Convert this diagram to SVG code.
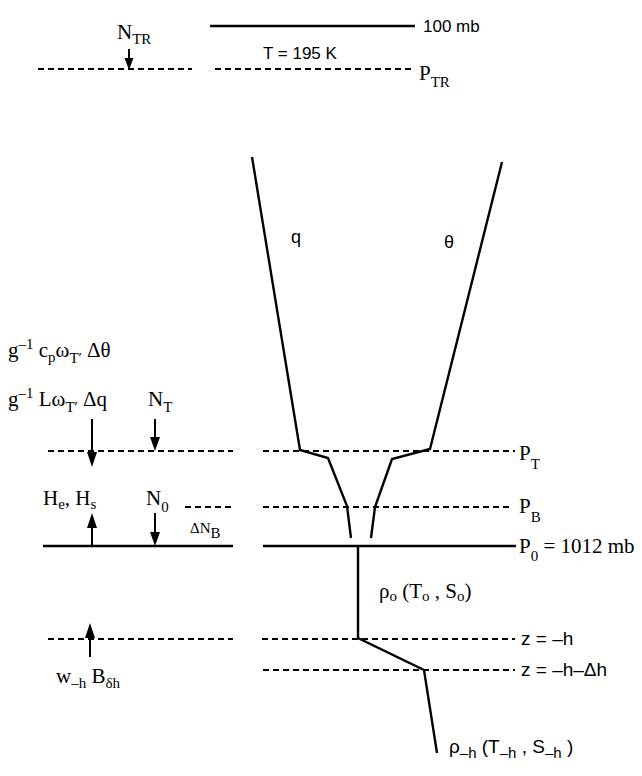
<svg xmlns="http://www.w3.org/2000/svg" width="642" height="776" viewBox="0 0 642 776">
<defs>
<style>
.ln{stroke:#000;stroke-width:2.4;fill:none;stroke-linejoin:miter}
.dl{stroke:#000;stroke-width:2;fill:none;stroke-dasharray:6 4}
.ar{stroke:#000;stroke-width:2;fill:none}
.hd{fill:#000}
.sf{font-family:"Liberation Serif","Times New Roman",serif;font-size:21px;fill:#000}
.ss{font-family:"Liberation Sans",Arial,sans-serif;font-size:17px;fill:#000}
.sub{font-size:15px}
</style>
</defs>
<rect width="642" height="776" fill="#fff"/>
<g id="levels">
<line class="ln" x1="210" y1="26" x2="415" y2="26"/>
<line class="dl" x1="38" y1="69" x2="192" y2="69"/>
<line class="dl" x1="215" y1="69" x2="415" y2="69"/>
<line class="dl" x1="48" y1="451" x2="233" y2="451"/>
<line class="dl" x1="263" y1="451" x2="515" y2="451"/>
<line class="dl" x1="185" y1="507" x2="233" y2="507"/>
<line class="dl" x1="263" y1="507" x2="512" y2="507"/>
<line class="ln" x1="43" y1="546" x2="233" y2="546"/>
<line class="ln" x1="263" y1="546" x2="516" y2="546"/>
<line class="dl" x1="48" y1="639" x2="233" y2="639"/>
<line class="dl" x1="262" y1="639" x2="515" y2="639"/>
<line class="dl" x1="263" y1="670" x2="515" y2="670"/>
</g>
<g id="profiles">
<polyline class="ln" points="252,157 300,450 328,458 347,506 351,538"/>
<polyline class="ln" points="502,162 430,449 392,459 375,507 371,538"/>
<polyline class="ln" points="358,546 358,638 424,670 437,753"/>
</g>
<g id="arrows">
<line class="ar" x1="129" y1="49" x2="129" y2="60"/><polygon class="hd" points="124.5,58 133.5,58 129,70"/>
<line class="ar" x1="92" y1="419" x2="92" y2="456"/><polygon class="hd" points="87,452 97,452 92,467"/>
<line class="ar" x1="155" y1="419" x2="155" y2="440"/><polygon class="hd" points="150,437 160,437 155,451"/>
<line class="ar" x1="92" y1="546" x2="92" y2="525"/><polygon class="hd" points="87,528 97,528 92,513"/>
<line class="ar" x1="155" y1="513" x2="155" y2="535"/><polygon class="hd" points="150,532 160,532 155,546"/>
<line class="ar" x1="90" y1="657" x2="90" y2="635"/><polygon class="hd" points="85,638 95,638 90,623"/>
</g>
<g id="labels">
<text class="sf" x="117" y="39">N<tspan class="sub" dy="5">TR</tspan></text>
<text class="ss" x="423" y="32">100 mb</text>
<text class="ss" x="263" y="59">T = 195 K</text>
<text class="sf" x="419" y="80">P<tspan class="sub" dy="7">TR</tspan></text>
<text class="ss" x="291" y="243" style="font-size:18px">q</text>
<text class="ss" x="444" y="248" style="font-size:18px">θ</text>
<text class="sf" x="8" y="357">g<tspan class="sub" dy="-8">–1</tspan><tspan dy="8"> c</tspan><tspan class="sub" dy="5">p</tspan><tspan dy="-5">ω</tspan><tspan class="sub" dy="6">T′</tspan><tspan dy="-6"> Δθ</tspan></text>
<text class="sf" x="8" y="406">g<tspan class="sub" dy="-8">–1</tspan><tspan dy="8"> Lω</tspan><tspan class="sub" dy="6">T′</tspan><tspan dy="-6"> Δq</tspan></text>
<text class="sf" x="148" y="406">N<tspan class="sub" dy="6">T</tspan></text>
<text class="sf" x="43" y="505">H<tspan class="sub" dy="4">e</tspan><tspan dy="-4">, H</tspan><tspan class="sub" dy="4">s</tspan></text>
<text class="sf" x="146" y="505">N<tspan class="sub" dy="7">0</tspan></text>
<text class="sf" x="190" y="533" style="font-size:15px">ΔN<tspan class="sub" dy="5">B</tspan></text>
<text class="sf" x="519" y="460">P<tspan class="sub" dy="9">T</tspan></text>
<text class="sf" x="519" y="513">P<tspan class="sub" dy="9">B</tspan></text>
<text class="sf" x="519" y="553">P<tspan class="sub" dy="8">0</tspan><tspan dy="-8"> = 1012 mb</tspan></text>
<text class="sf" x="379" y="598">ρ<tspan class="sub" dy="3">o</tspan><tspan dy="-3"> (T</tspan><tspan class="sub" dy="3">o</tspan><tspan dy="-3"> , S</tspan><tspan class="sub" dy="3">o</tspan><tspan dy="-3">)</tspan></text>
<text class="ss" x="521" y="645" style="font-size:19px">z = –h</text>
<text class="ss" x="521" y="676" style="font-size:19px">z = –h–Δh</text>
<text class="sf" x="56" y="683">w<tspan class="sub" dy="5">–h</tspan><tspan dy="-5"> B</tspan><tspan class="sub" dy="5">δh</tspan></text>
<text class="ss" x="449" y="753" style="font-size:19px">ρ<tspan class="sub" dy="5">–h</tspan><tspan dy="-5"> (T</tspan><tspan class="sub" dy="5">–h</tspan><tspan dy="-5"> , S</tspan><tspan class="sub" dy="5">–h</tspan><tspan dy="-5"> )</tspan></text>
</g>
</svg>
